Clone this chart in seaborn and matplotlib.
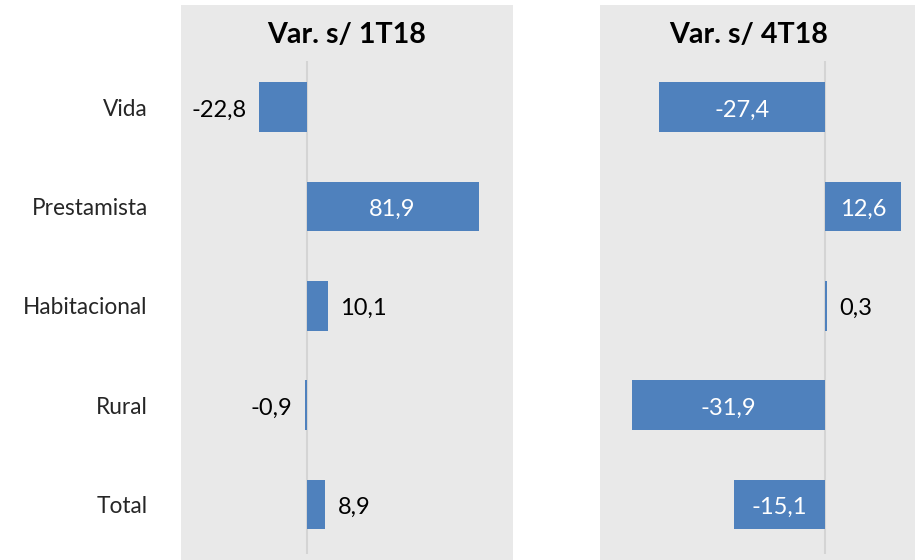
import matplotlib
matplotlib.use("Agg")
import matplotlib.pyplot as plt
import seaborn as sns

# Chart data
categories = ["Vida", "Prestamista", "Habitacional", "Rural", "Total"]
var_1t18 = [-22.8, 81.9, 10.1, -0.9, 8.9]
var_4t18 = [-27.4, 12.6, 0.3, -31.9, -15.1]
titles = ["Var. s/ 1T18", "Var. s/ 4T18"]

bar_color = "#4f81bd"
panel_bg = "#e9e9e9"

sns.set_theme(style="white")
plt.rcParams["font.family"] = ["Lato", "DejaVu Sans"]

W, H = 915, 560
fig = plt.figure(figsize=(W / 100, H / 100), dpi=100)
ax1 = fig.add_axes([181 / W, 0, (513 - 181) / W, 555 / H])
ax2 = fig.add_axes([600 / W, 0, (915 - 600) / W, 555 / H])

panels = [
    (ax1, var_1t18, titles[0], (-59.8, 98.3), 0.5),
    (ax2, var_4t18, titles[1], (-37.2, 14.9), 0.473),
]

for ax, values, title, xlim, title_x in panels:
    ax.set_facecolor(panel_bg)
    sns.barplot(x=values, y=categories, orient="h", color=bar_color,
                width=0.5, saturation=1, linewidth=0, ax=ax)
    ax.set_xlim(*xlim)
    ax.set_ylim(4.56, -1.03)
    # zero line
    ax.vlines(0, -0.47, 4.5, color="#d4d4d4", lw=1.5, zorder=0)
    for s in ax.spines.values():
        s.set_visible(False)
    ax.set_xticks([])
    ax.set_xlabel("")
    ax.set_ylabel("")
    ax.text(title_x, 0.946, title, transform=ax.transAxes, ha="center",
            va="center", fontsize=20.6, fontweight="bold", color="black")

    # value labels: inside when the bar is wide enough, otherwise outside
    for i, v in enumerate(values):
        label = f"{v:.1f}".replace(".", ",")
        x0 = ax.transData.transform((0, 0))[0]
        x1 = ax.transData.transform((v, 0))[0]
        if abs(x1 - x0) > 65:
            ax.text(v / 2, i + 0.03, label, ha="center", va="center",
                    color="white", fontsize=17)
        else:
            sign = 1 if v >= 0 else -1
            ax.annotate(label, (v, i + 0.03), xytext=(sign * 9, 0),
                        textcoords="offset points",
                        ha="left" if v >= 0 else "right", va="center",
                        color="black", fontsize=17)

ax1.tick_params(axis="y", length=0, pad=24, labelsize=16.3)
ax2.set_yticks([])

fig.savefig("out.png", dpi=100, facecolor="white")
